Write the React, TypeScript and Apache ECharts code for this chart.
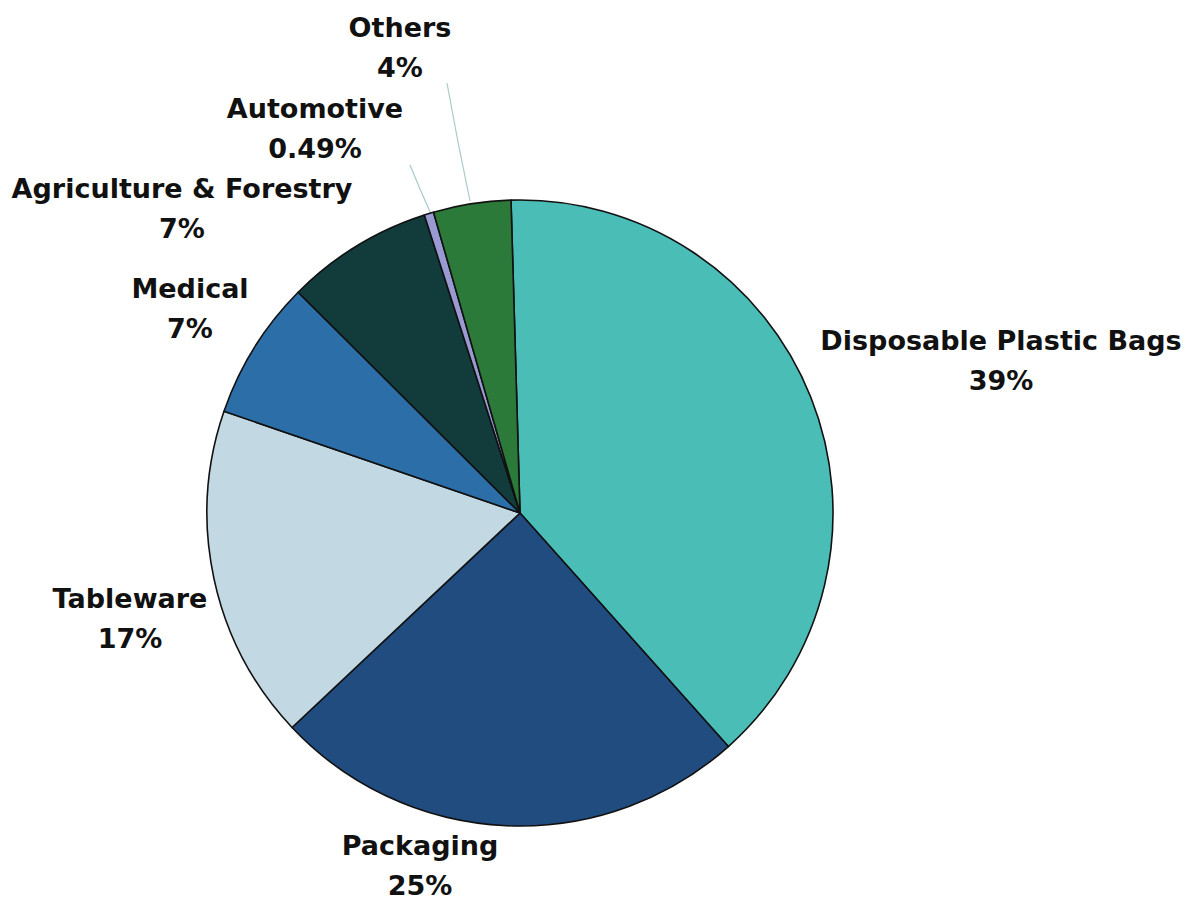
import React, { useEffect, useRef } from "react";
import * as echarts from "echarts";

const categories = [
  "Disposable Plastic Bags",
  "Packaging",
  "Tableware",
  "Medical",
  "Agriculture & Forestry",
  "Automotive",
  "Others",
];
// shares
const values = [38.9, 24.6, 17.3, 7.2, 7.6, 0.49, 4.0];
const percentLabels = ["39%", "25%", "17%", "7%", "7%", "0.49%", "4%"];
const colors = ["#4BBDB7", "#214C80", "#C2D9E3", "#2C6FA8", "#123C3C", "#9A9AD2", "#2B7A3A"];
// label anchor (center of the two-line block) for each slice
const labelPos = [
  [1001, 360],
  [420, 865],
  [130, 618],
  [190, 308],
  [182, 208],
  [315, 128],
  [400, 47],
];
const leaderLines: (number[][] | null)[] = [
  null,
  null,
  null,
  null,
  null,
  [[431, 214], [420, 189], [410, 165]],
  [[470, 201], [458, 142], [447, 83]],
];

export default function App() {
  const ref = useRef<HTMLDivElement>(null);
  useEffect(() => {
    document.body.style.margin = "0";
    const chart = echarts.init(ref.current!, undefined, { renderer: "svg" });
    chart.setOption({
      animation: false,
      backgroundColor: "#ffffff",
      series: [
        {
          type: "pie",
          center: [520, 513],
          radius: 313,
          startAngle: 91.65,
          clockwise: true,
          avoidLabelOverlap: false,
          itemStyle: { borderColor: "#111111", borderWidth: 1.6 },
          label: {
            show: true,
            position: "outside",
            formatter: (p: any) => `${p.name}\n${percentLabels[p.dataIndex]}`,
            fontFamily: "DejaVu Sans",
            fontWeight: "bold",
            fontSize: 27,
            lineHeight: 40,
            color: "#111111",
            align: "center",
          },
          labelLine: {
            show: true,
            lineStyle: { color: "#A9C9CB", width: 1.2 },
          },
          labelLayout: (params: any) => {
            const i = params.dataIndex;
            const out: any = {
              x: labelPos[i][0],
              y: labelPos[i][1],
              align: "center",
              verticalAlign: "middle",
            };
            if (leaderLines[i]) out.labelLinePoints = leaderLines[i];
            return out;
          },
          data: categories.map((name, i) => ({
            name,
            value: values[i],
            itemStyle: { color: colors[i] },
            labelLine: { show: leaderLines[i] !== null },
          })),
        },
      ],
    });
    return () => chart.dispose();
  }, []);
  return <div ref={ref} style={{ width: 1198, height: 902 }} />;
}
